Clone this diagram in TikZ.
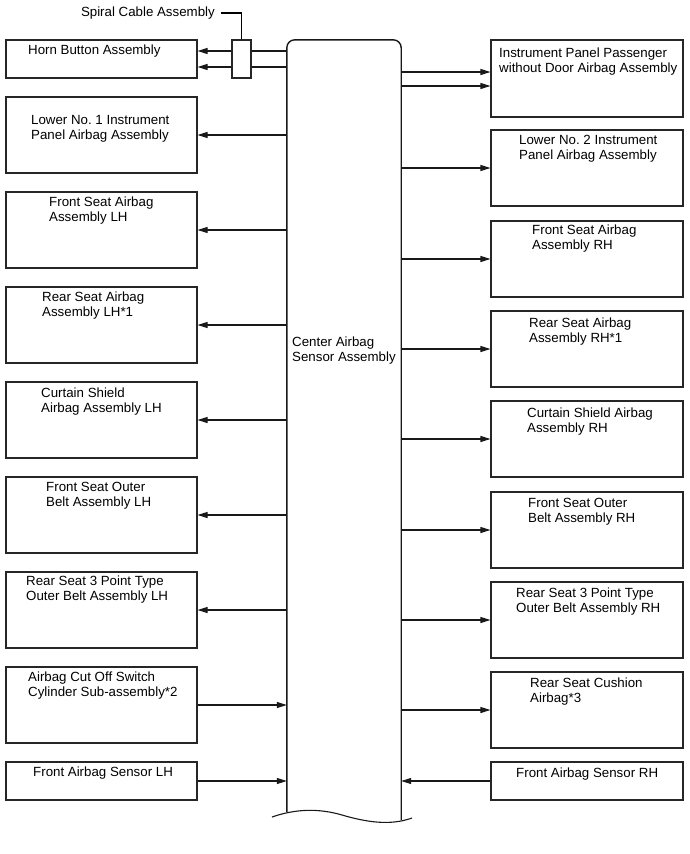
\documentclass[tikz,border=0pt]{standalone}
\usepackage{fontspec}
\setmainfont{Liberation Sans}
\usetikzlibrary{arrows.meta}
\frenchspacing

\begin{document}
\begin{tikzpicture}[
    x=1pt, y=-1pt,
    font=\fontsize{13.3pt}{15pt}\selectfont,
    unitbox/.style={draw=black!85, line width=1.1pt, inner sep=0pt,
        minimum width=191pt, minimum height=76pt},
    shortbox/.style={unitbox, minimum height=38pt},
    lbl/.style={anchor=north west, inner sep=0pt, align=left},
    arr/.style={-{Triangle[length=10pt,width=6pt]}, line width=1.1pt, draw=black!90},
    column/.style={line width=1.4pt, draw=black!90}
]
\useasboundingbox (0,0) rectangle (689,854);

% =========================================================
% Center airbag sensor
% =========================================================
\node[inner sep=0pt, minimum width=114pt, minimum height=780pt] (csa) at (344,430) {};
\draw[column, rounded corners=8pt] ([yshift=8pt]csa.south west) -- (csa.north west)
    -- (csa.north east) -- (csa.south east);
\draw[column, line width=1.1pt] (272,817) .. controls (295,809) and (318,808) .. (342,815)
    .. controls (366,822) and (390,826) .. (412,818);
\node[lbl] (csalbl) at (292,337) {Center Airbag\\Sensor Assembly};

% =========================================================
% Left side
% =========================================================
\node[shortbox] (horn) at (101.5,59) {};
\node[unitbox] (lowone) at (101.5,135) {};
\node[unitbox] (fsalh) at (101.5,230) {};
\node[unitbox] (rsalh) at (101.5,325) {};
\node[unitbox] (cshlh) at (101.5,420) {};
\node[unitbox] (fsblh) at (101.5,515) {};
\node[unitbox] (rsblh) at (101.5,610) {};
\node[unitbox] (cutoff) at (101.5,705) {};
\node[shortbox] (sensorlh) at (101.5,781) {};

\node[lbl] (t-horn) at (28,45) {Horn Button Assembly};
\node[lbl] (t-lowone) at (31,115) {Lower No. 1 Instrument\\Panel Airbag Assembly};
\node[lbl] (t-fsalh) at (49,197) {Front Seat Airbag\\Assembly LH};
\node[lbl] (t-rsalh) at (42,292) {Rear Seat Airbag\\Assembly LH*1};
\node[lbl] (t-cshlh) at (41,388) {Curtain Shield\\Airbag Assembly LH};
\node[lbl] (t-fsblh) at (46,482) {Front Seat Outer\\Belt Assembly LH};
\node[lbl] (t-rsblh) at (26,576) {Rear Seat 3 Point Type\\Outer Belt Assembly LH};
\node[lbl] (t-cutoff) at (28,672) {Airbag Cut Off Switch\\Cylinder Sub-assembly*2};
\node[lbl] (t-sensorlh) at (33,767) {Front Airbag Sensor LH};

% =========================================================
% Right side
% =========================================================
\node[unitbox, minimum width=192pt, minimum height=77pt] (ippass) at (587,78.5) {};
\node[unitbox, minimum width=192pt] (lowtwo) at (587,168) {};
\node[unitbox, minimum width=192pt] (fsarh) at (587,259) {};
\node[unitbox, minimum width=192pt] (rsarh) at (587,349) {};
\node[unitbox, minimum width=192pt] (cshrh) at (587,439) {};
\node[unitbox, minimum width=192pt] (fsbrh) at (587,530) {};
\node[unitbox, minimum width=192pt] (rsbrh) at (587,620) {};
\node[unitbox, minimum width=192pt] (cushion) at (587,710) {};
\node[shortbox, minimum width=192pt] (sensorrh) at (587,781) {};

\node[lbl] (t-ippass) at (499,48) {Instrument Panel Passenger\\without Door Airbag Assembly};
\node[lbl] (t-lowtwo) at (519,135) {Lower No. 2 Instrument\\Panel Airbag Assembly};
\node[lbl] (t-fsarh) at (532,225) {Front Seat Airbag\\Assembly RH};
\node[lbl] (t-rsarh) at (529,318) {Rear Seat Airbag\\Assembly RH*1};
\node[lbl] (t-cshrh) at (527,408) {Curtain Shield Airbag\\Assembly RH};
\node[lbl] (t-fsbrh) at (528,498) {Front Seat Outer\\Belt Assembly RH};
\node[lbl] (t-rsbrh) at (516,588) {Rear Seat 3 Point Type\\Outer Belt Assembly RH};
\node[lbl] (t-cushion) at (530,678) {Rear Seat Cushion\\Airbag*3};
\node[lbl] (t-sensorrh) at (516,768) {Front Airbag Sensor RH};

% =========================================================
% Connections
% =========================================================
\draw[arr] ([yshift=8pt]horn.east -| csa.west) -- ([yshift=8pt]horn.east);
\draw[arr] ([yshift=-8pt]horn.east -| csa.west) -- ([yshift=-8pt]horn.east);
\foreach \n in {lowone,fsalh,rsalh,cshlh,fsblh,rsblh}
    \draw[arr] (csa.west |- \n.east) -- (\n.east);
\draw[arr] (cutoff.east) -- (csa.west |- cutoff.east);
\draw[arr] (sensorlh.east) -- (csa.west |- sensorlh.east);

\draw[arr] ([yshift=6.5pt]ippass.west -| csa.east) -- ([yshift=6.5pt]ippass.west);
\draw[arr] ([yshift=-7.5pt]ippass.west -| csa.east) -- ([yshift=-7.5pt]ippass.west);
\foreach \n in {lowtwo,fsarh,rsarh,cshrh,fsbrh,rsbrh,cushion}
    \draw[arr] (csa.east |- \n.west) -- (\n.west);
\draw[arr] (sensorrh.west) -- (csa.east |- sensorrh.west);

% Spiral cable
\node[unitbox, fill=white, minimum width=19pt, minimum height=38pt] (spiral) at (241.5,59) {};
\node[anchor=east, inner sep=0pt] (t-spiral) at (215,13) {Spiral Cable Assembly};
\draw[line width=1.1pt] ([xshift=6pt]t-spiral.east) -| (spiral.north);

\end{tikzpicture}
\end{document}
